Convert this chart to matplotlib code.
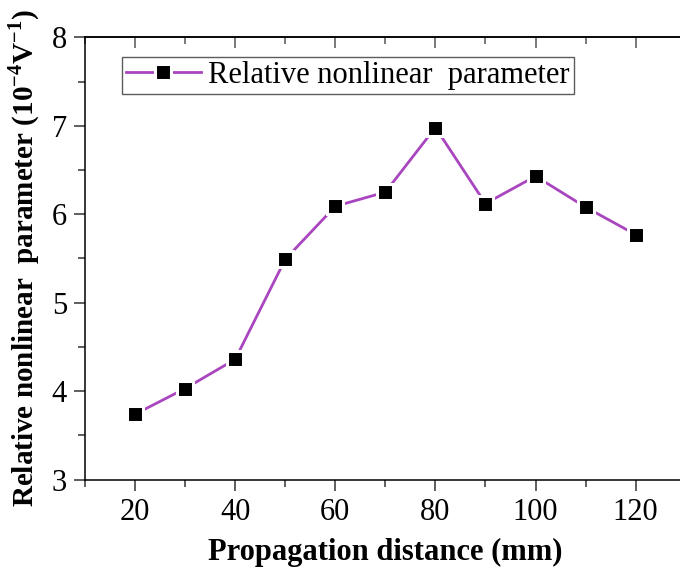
import matplotlib.pyplot as plt
from matplotlib.ticker import MultipleLocator

plt.rcParams['font.family'] = ['Liberation Serif', 'DejaVu Serif']
plt.rcParams['mathtext.fontset'] = 'custom'
plt.rcParams['mathtext.rm'] = 'Liberation Serif'
plt.rcParams['mathtext.bf'] = 'Liberation Serif:bold'

distance = [20, 30, 40, 50, 60, 70, 80, 90, 100, 110, 120]
beta_rel = [3.74, 4.03, 4.36, 5.49, 6.09, 6.25, 6.98, 6.12, 6.43, 6.08, 5.77]

fig = plt.figure(figsize=(6.8, 5.68), dpi=100)
ax = fig.add_axes([0.125, 0.1555, 0.8834, 0.7789])

ax.plot(distance, beta_rel, color='#A945BF', lw=2.0, marker='s', ms=12,
        mfc='black', mec='white', mew=2.2,
        label='Relative nonlinear  parameter')

ax.set_xlim(10, 130)
ax.set_ylim(3, 8)
ax.xaxis.set_major_locator(MultipleLocator(20))
ax.xaxis.set_minor_locator(MultipleLocator(10))
ax.yaxis.set_major_locator(MultipleLocator(1))
ax.yaxis.set_minor_locator(MultipleLocator(0.5))

ax.tick_params(which='both', direction='out', labelsize=22, width=1.1,
               colors='#333333', labelcolor='black')
ax.tick_params(which='major', length=8, pad=5)
ax.tick_params(which='minor', length=5)
for s in ax.spines.values():
    s.set_linewidth(1.1)

# mirrored inward ticks on the top edge
top = ax.secondary_xaxis('top')
top.xaxis.set_major_locator(MultipleLocator(20))
top.xaxis.set_minor_locator(MultipleLocator(10))
top.tick_params(which='both', direction='in', labeltop=False, width=1.1,
                colors='#555555')
top.tick_params(which='major', length=8)
top.tick_params(which='minor', length=5)
top.spines['top'].set_linewidth(1.1)

ax.set_xlabel('Propagation distance (mm)', fontsize=22, fontweight='bold',
              labelpad=8)
ax.set_ylabel('Relative nonlinear  parameter (10$^{\\mathbf{-4}}$V$^{\\mathbf{-1}}$)',
              fontsize=21, fontweight='bold', labelpad=7)

leg = ax.legend(loc='upper left', bbox_to_anchor=(0.062, 0.955), fontsize=22,
                frameon=True, fancybox=False, edgecolor='#333333',
                handlelength=2.45, handletextpad=0.25, borderpad=0.12,
                borderaxespad=0)
leg.get_frame().set_linewidth(1.0)

fig.savefig('out.png', dpi=100)
